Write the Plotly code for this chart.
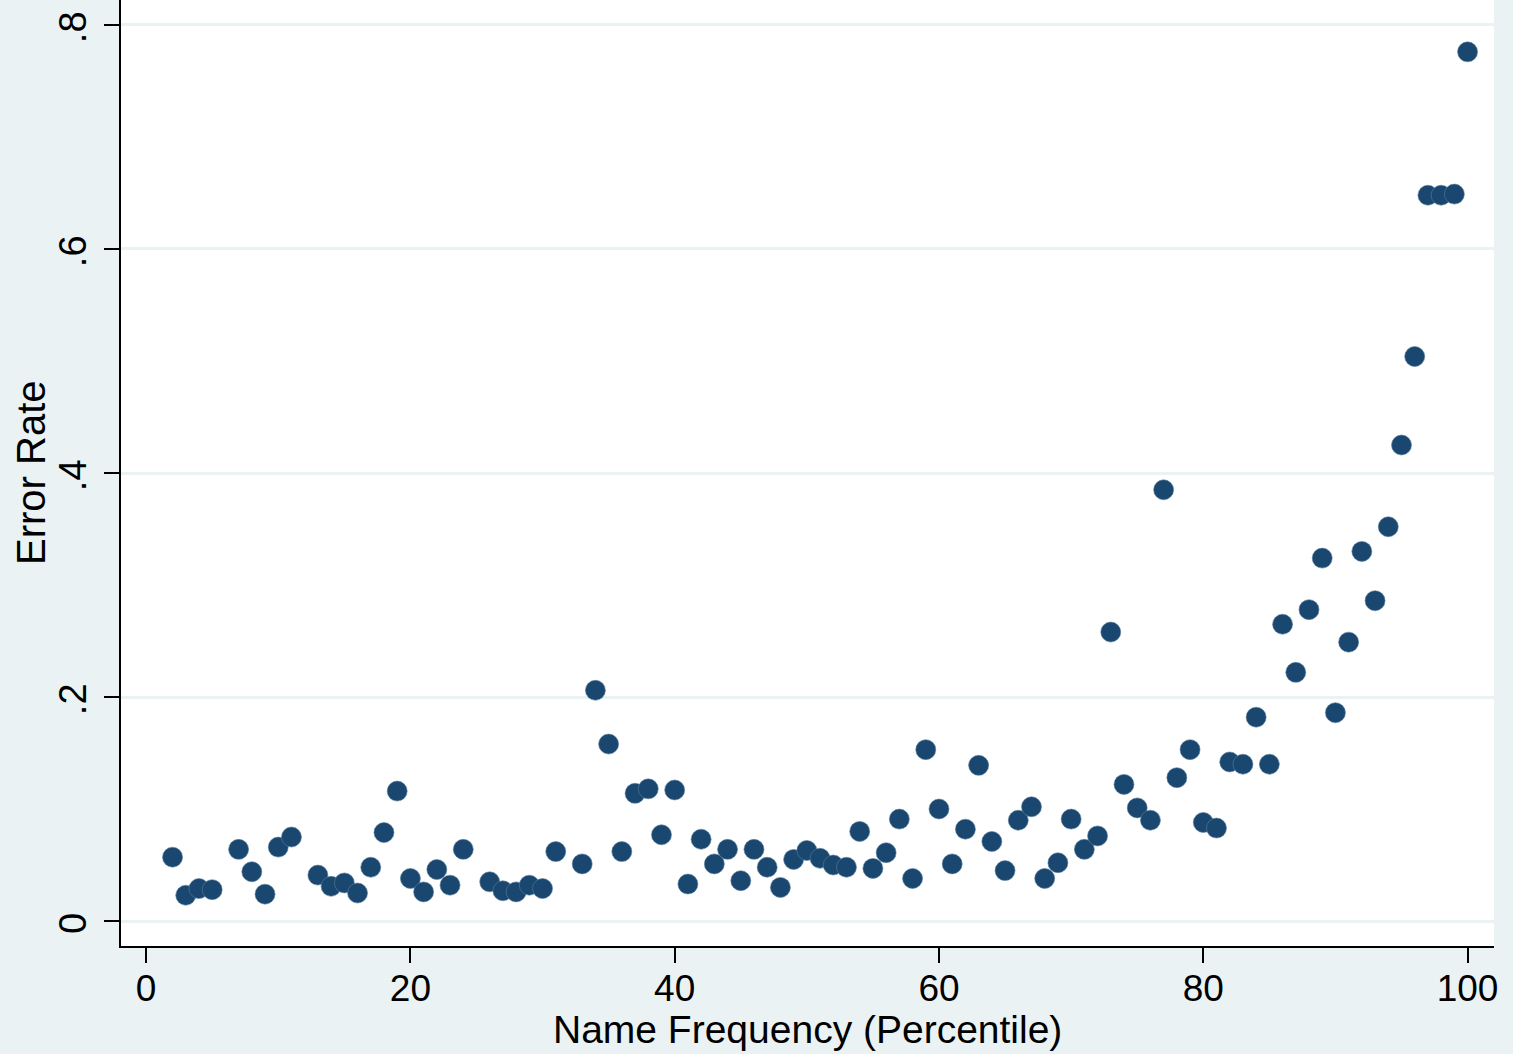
import plotly.graph_objects as go

percentile = [2, 3, 4, 5, 7, 8, 9, 10, 11, 13, 14, 15, 16, 17, 18, 19, 20, 21, 22, 23, 24,
              26, 27, 28, 29, 30, 31, 33, 34, 35, 36, 37, 38, 39, 40, 41, 42, 43, 44, 45,
              46, 47, 48, 49, 50, 51, 52, 53, 54, 55, 56, 57, 58, 59, 60, 61, 62, 63, 64,
              65, 66, 67, 68, 69, 70, 71, 72, 73, 74, 75, 76, 77, 78, 79, 80, 81, 82, 83,
              84, 85, 86, 87, 88, 89, 90, 91, 92, 93, 94, 95, 96, 97, 98, 99, 100]
error_rate = [0.057, 0.023, 0.029, 0.028, 0.064, 0.044, 0.024, 0.066, 0.075, 0.041, 0.031,
              0.034, 0.025, 0.048, 0.079, 0.116, 0.038, 0.026, 0.046, 0.032, 0.064,
              0.035, 0.027, 0.026, 0.032, 0.029, 0.062, 0.051, 0.206, 0.158, 0.062,
              0.114, 0.118, 0.077, 0.117, 0.033, 0.073, 0.051, 0.064, 0.036,
              0.064, 0.048, 0.030, 0.055, 0.063, 0.056, 0.050, 0.048, 0.080, 0.047,
              0.061, 0.091, 0.038, 0.153, 0.100, 0.051, 0.082, 0.139, 0.071,
              0.045, 0.090, 0.102, 0.038, 0.052, 0.091, 0.064, 0.076, 0.258, 0.122,
              0.101, 0.090, 0.385, 0.128, 0.153, 0.088, 0.083, 0.142, 0.140,
              0.182, 0.140, 0.265, 0.222, 0.278, 0.324, 0.186, 0.249, 0.330, 0.286,
              0.352, 0.425, 0.504, 0.648, 0.648, 0.649, 0.776]

x_ticks = [0, 20, 40, 60, 80, 100]
y_ticks = [0, 0.2, 0.4, 0.6, 0.8]
y_tick_labels = ["0", ".2", ".4", ".6", ".8"]

BG = "#EAF2F3"
NAVY = "#1a476f"
FONT = "Liberation Sans, Arial, Helvetica, sans-serif"

fig = go.Figure()
fig.add_trace(go.Scatter(
    x=percentile, y=error_rate, mode="markers",
    marker=dict(size=20, color=NAVY, line=dict(width=0.6, color="#5a7d9a")),
    showlegend=False, hoverinfo="x+y",
))

fig.update_layout(
    width=1513, height=1054,
    paper_bgcolor=BG, plot_bgcolor="white",
    margin=dict(l=121, r=19, t=0, b=108),
    font=dict(family=FONT, size=38, color="black"),
    xaxis=dict(
        range=[-1.9, 102.0], tickvals=x_ticks, ticks="outside", ticklen=15,
        tickwidth=2, tickcolor="black", showline=True, linecolor="black", linewidth=2,
        showgrid=False, zeroline=False, mirror=False,
        tickfont=dict(size=37), ticklabelstandoff=-6,
    ),
    yaxis=dict(
        range=[-0.0223, 0.8223], tickvals=y_ticks, ticktext=y_tick_labels,
        ticks="outside", ticklen=15, tickwidth=2, tickcolor="black",
        showline=True, linecolor="black", linewidth=2,
        showgrid=True, gridcolor=BG, gridwidth=3, zeroline=False,
        tickangle=-90, tickfont=dict(size=38),
        ticklabelstandoff=3, ticklabelshift=8,
    ),
    annotations=[
        dict(
            text="Error Rate", xref="paper", yref="paper", x=0, y=0.5,
            xanchor="center", yanchor="middle", xshift=-90, textangle=-90,
            showarrow=False, font=dict(size=40, family=FONT, color="black"),
        ),
        dict(
            text="Name Frequency (Percentile)", xref="paper", yref="paper", x=0.5, y=0,
            xanchor="center", yanchor="middle", yshift=-83,
            showarrow=False, font=dict(size=39, family=FONT, color="black"),
        ),
    ],
)

fig.write_html(
    "out.html",
    config={"displayModeBar": False},
    post_script="document.body.style.margin='0';document.body.style.background='%s';" % BG,
)
